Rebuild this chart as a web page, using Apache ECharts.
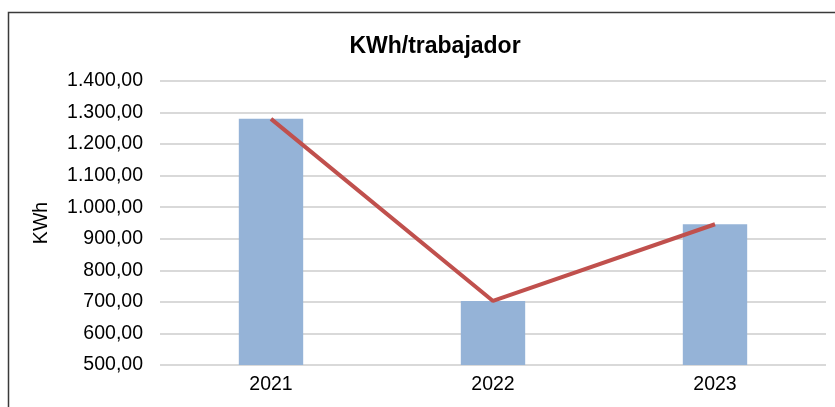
<!DOCTYPE html>
<html>
<head>
<meta charset="utf-8">
<script src="https://cdn.jsdelivr.net/npm/echarts@6/dist/echarts.min.js"></script>
<style>
  html, body { margin: 0; padding: 0; background: #fff; }
  #chart { width: 835px; height: 407px; }
</style>
</head>
<body>
<div id="chart"></div>
<script>
const years = ['2021', '2022', '2023'];
const kwhBars = [1280, 703, 946];
const kwhLine = [1280, 703, 946];

const fmt = v => {
  const [i, d] = v.toFixed(2).split('.');
  return i.replace(/\B(?=(\d{3})+(?!\d))/g, '.') + ',' + d;
};

const chart = echarts.init(document.getElementById('chart'));

chart.setOption({
  backgroundColor: '#fff',
  animation: false,
  title: {
    text: 'KWh/trabajador',
    left: 430,
    top: 30,
    textAlign: 'center',
    textStyle: { fontFamily: 'Liberation Sans', fontSize: 23, fontWeight: 'bold', color: '#000' }
  },
  graphic: [{
    type: 'rect',
    shape: { x: 8.5, y: 12.5, width: 850, height: 420 },
    style: { fill: 'none', stroke: '#3a3a3a', lineWidth: 1.5 },
    silent: true
  }],
  grid: { left: 160, right: 9, top: 81, bottom: 42 },
  xAxis: {
    type: 'category',
    data: years,
    axisLine: { show: false },
    axisTick: { show: false },
    axisLabel: { color: '#000', fontFamily: 'Liberation Sans', fontSize: 19.5, margin: 10 }
  },
  yAxis: {
    type: 'value',
    min: 500,
    max: 1400,
    interval: 100,
    name: 'KWh',
    nameLocation: 'middle',
    nameGap: 108,
    nameTextStyle: { color: '#000', fontFamily: 'Liberation Sans', fontSize: 19.5 },
    axisLine: { show: false },
    axisTick: { show: false },
    axisLabel: { color: '#000', fontFamily: 'Liberation Sans', fontSize: 19.5, margin: 17, formatter: fmt },
    splitLine: { lineStyle: { color: '#d9d9d9', width: 2 } }
  },
  series: [
    {
      type: 'bar',
      data: kwhBars,
      barWidth: '29%',
      itemStyle: { color: '#95b3d7' }
    },
    {
      type: 'line',
      data: kwhLine,
      symbol: 'none',
      lineStyle: { color: '#c0504d', width: 4 }
    }
  ]
});
</script>
</body>
</html>
